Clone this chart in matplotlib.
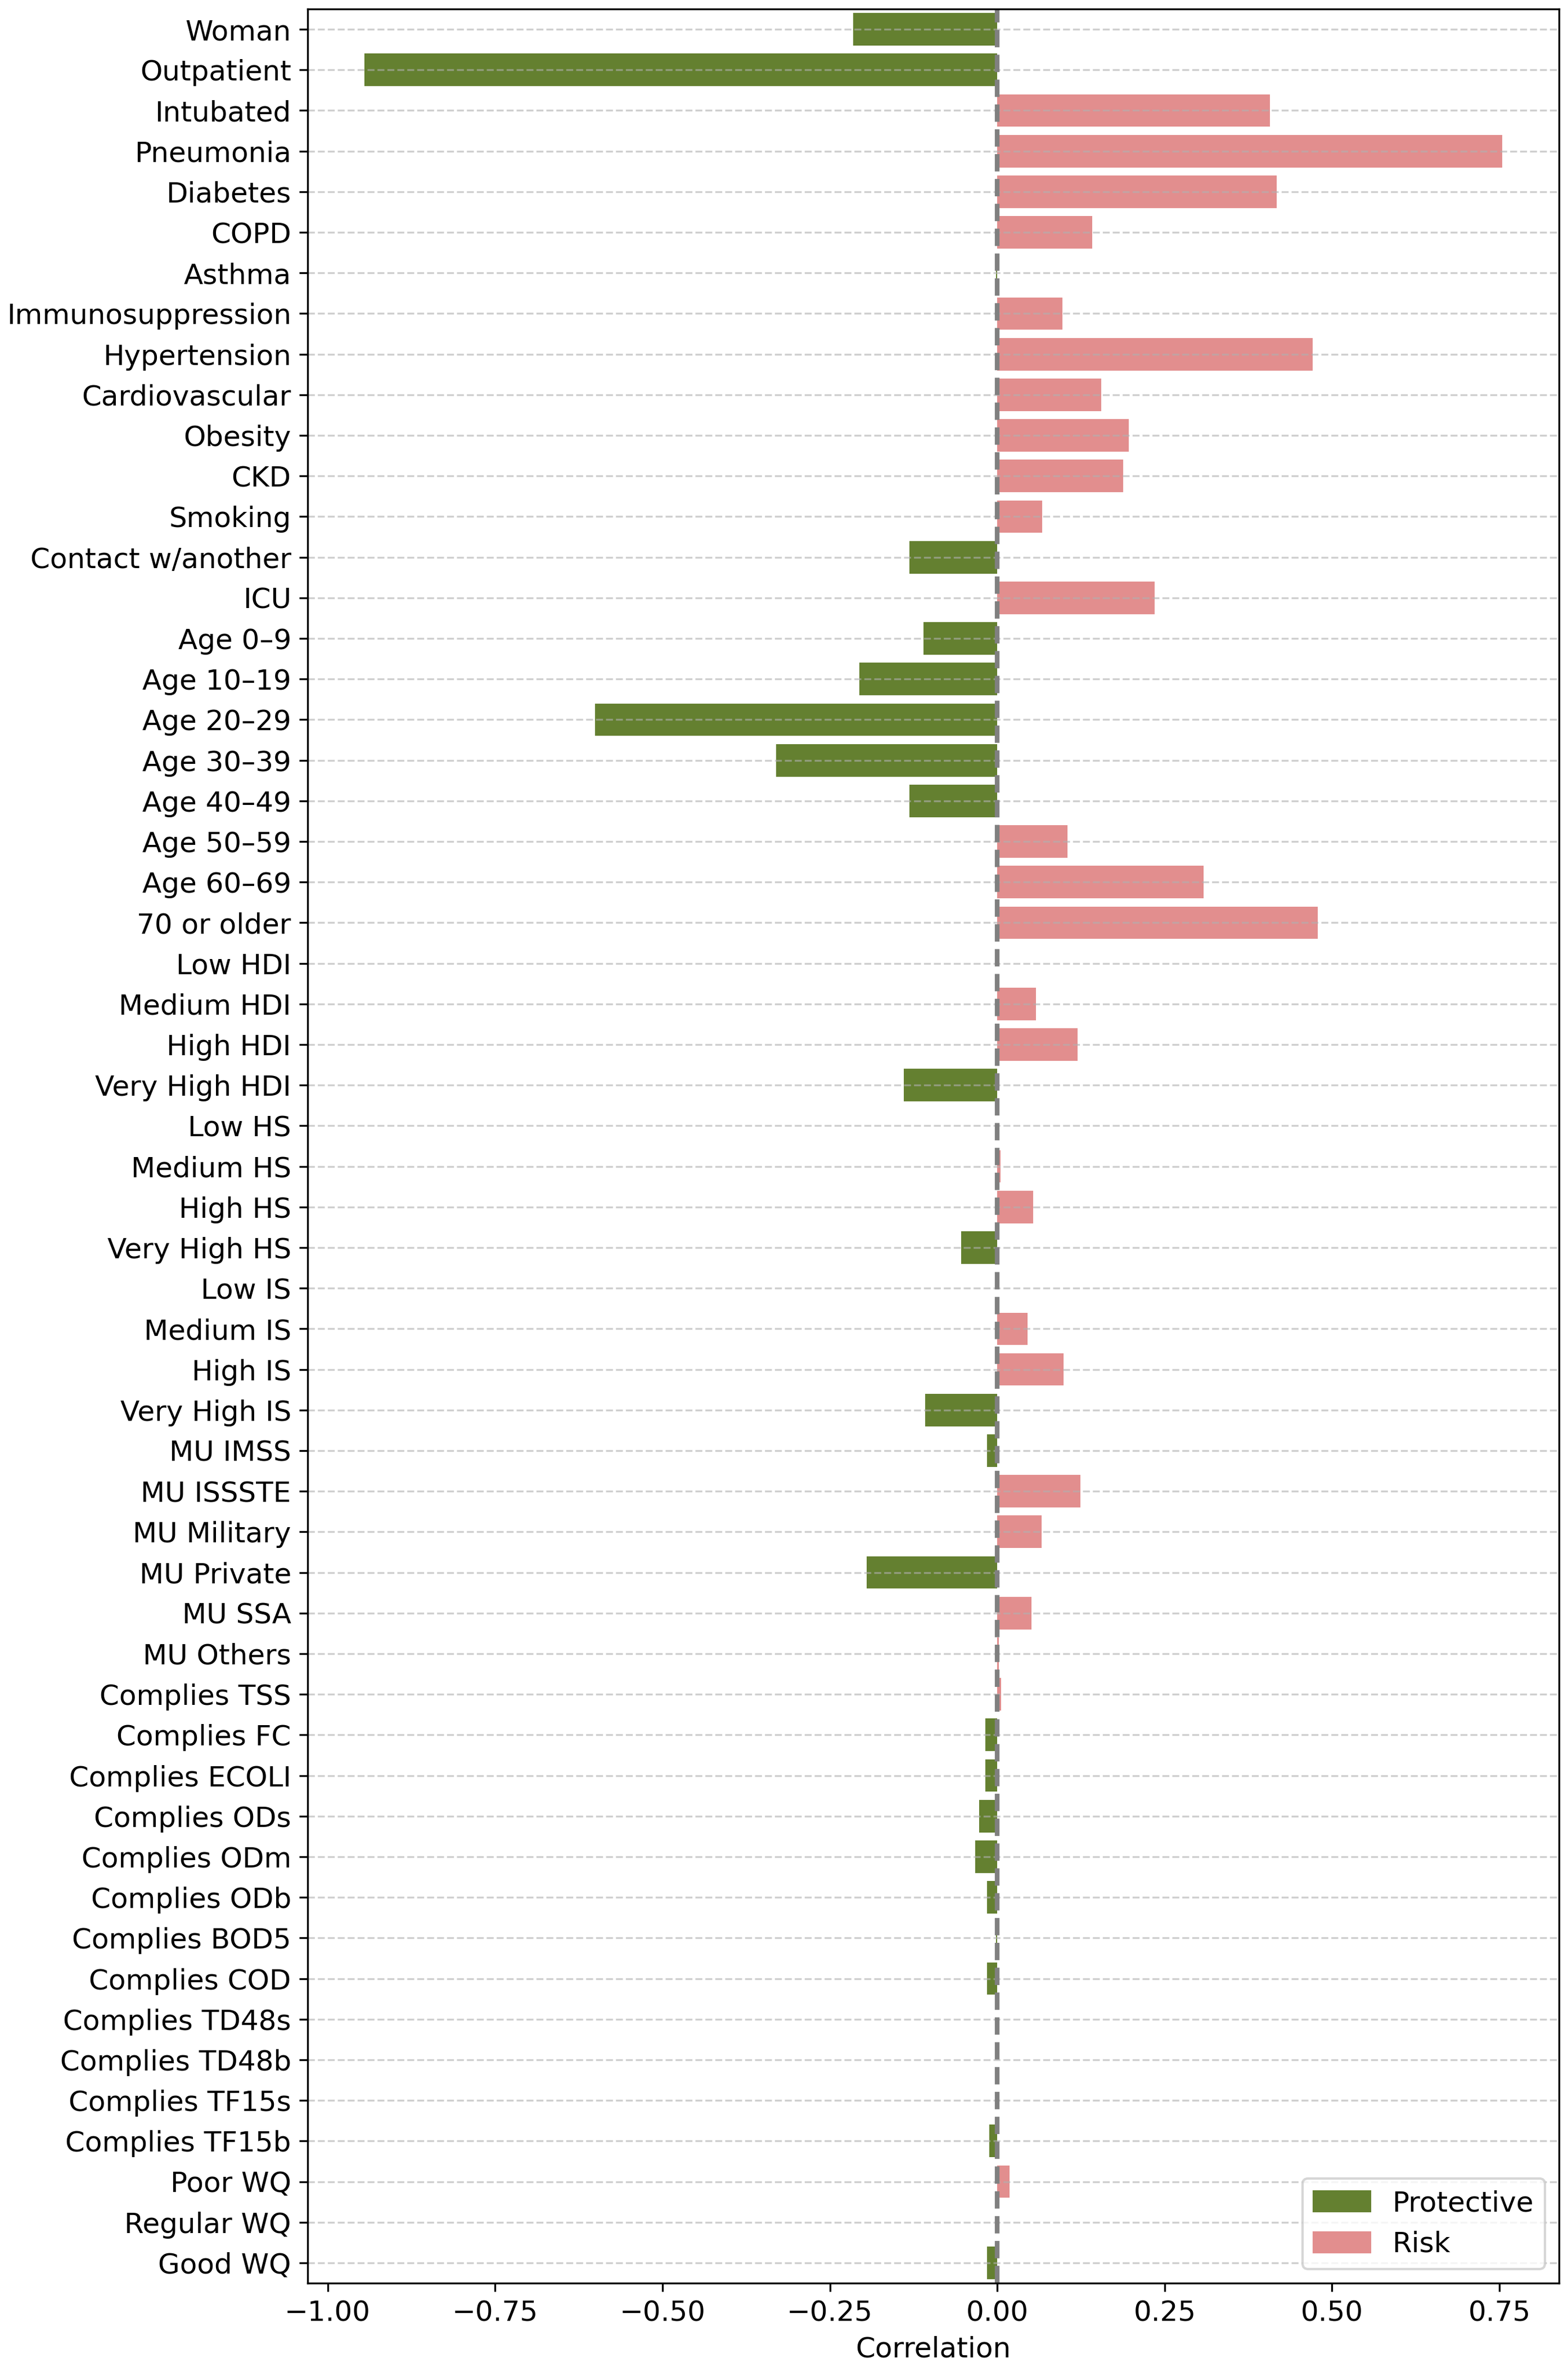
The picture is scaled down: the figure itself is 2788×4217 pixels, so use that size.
import matplotlib
matplotlib.use("Agg")
import matplotlib.pyplot as plt
from matplotlib.patches import Patch

# categories, top to bottom
categories = [
    "Woman", "Outpatient", "Intubated", "Pneumonia", "Diabetes", "COPD", "Asthma",
    "Immunosuppression", "Hypertension", "Cardiovascular", "Obesity", "CKD", "Smoking",
    "Contact w/another", "ICU",
    "Age 0–9", "Age 10–19", "Age 20–29", "Age 30–39", "Age 40–49", "Age 50–59",
    "Age 60–69", "70 or older",
    "Low HDI", "Medium HDI", "High HDI", "Very High HDI",
    "Low HS", "Medium HS", "High HS", "Very High HS",
    "Low IS", "Medium IS", "High IS", "Very High IS",
    "MU IMSS", "MU ISSSTE", "MU Military", "MU Private", "MU SSA", "MU Others",
    "Complies TSS", "Complies FC", "Complies ECOLI", "Complies ODs", "Complies ODm",
    "Complies ODb", "Complies BOD5", "Complies COD", "Complies TD48s", "Complies TD48b",
    "Complies TF15s", "Complies TF15b",
    "Poor WQ", "Regular WQ", "Good WQ",
]

correlation = [
    -0.215, -0.945, 0.407, 0.754, 0.417, 0.142, -0.002,
    0.097, 0.471, 0.155, 0.196, 0.188, 0.067,
    -0.131, 0.235,
    -0.110, -0.206, -0.601, -0.330, -0.131, 0.105,
    0.308, 0.479,
    0.0, 0.058, 0.120, -0.140,
    0.0, 0.005, 0.054, -0.054,
    0.0, 0.045, 0.099, -0.108,
    -0.015, 0.124, 0.066, -0.195, 0.051, 0.002,
    0.006, -0.018, -0.018, -0.027, -0.033,
    -0.015, -0.002, -0.015, 0.0, 0.0,
    0.0, -0.012,
    0.018, 0.0, -0.015,
]

groups = ["Protective", "Risk"]
group_colors = ["#648030", "#e28e8e"]

plt.rcParams["font.size"] = 12

fig = plt.figure(figsize=(2788 / 300, 4217 / 300), dpi=300)
ax = fig.add_axes([547 / 2788, 1 - 4059 / 4217, (2772 - 547) / 2788, (4059 - 16) / 4217])

colors = [group_colors[0] if v < 0 else group_colors[1] for v in correlation]
ax.barh(range(len(categories)), correlation, height=0.8, color=colors)

ax.set_yticks(range(len(categories)))
ax.set_yticklabels(categories)
ax.set_ylim(len(categories) - 0.5, -0.5)

ax.axvline(0, color="gray", linestyle="--", linewidth=2)
ax.grid(axis="y", linestyle="--", alpha=0.6)
ax.set_xlabel("Correlation")

handles = [Patch(color=c, label=g) for g, c in zip(groups, group_colors)]
ax.legend(handles=handles, loc="lower right")

fig.savefig("out.png", dpi=300)
